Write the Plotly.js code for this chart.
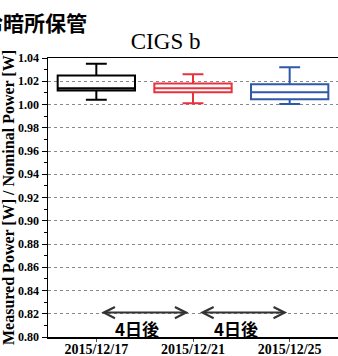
<!DOCTYPE html>
<html>
<head>
<meta charset="utf-8">
<script src="https://cdn.plot.ly/plotly-3.0.1.min.js"></script>
<style>html,body{margin:0;padding:0;background:#fff;}#chart{width:338px;height:356px;}</style>
</head>
<body>
<div id="chart"></div>
<script>
const dates = ["2015/12/17", "2015/12/21", "2015/12/25"];
const lowerWhisker = [1.004, 1.001, 1.0005];
const q1Values = [1.012, 1.0105, 1.0045];
const medianValues = [1.014, 1.014, 1.0105];
const q3Values = [1.025, 1.018, 1.0175];
const upperWhisker = [1.035, 1.026, 1.032];
const boxColors = ["#000000", "#e8323e", "#2f5aa8"];
const headerText = "冷暗所保管";
const chartTitle = "CIGS b";
const intervalLabels = ["4日後", "4日後"];

const traces = dates.map((d, i) => ({
  type: "box",
  x: [d],
  q1: [q1Values[i]],
  median: [medianValues[i]],
  q3: [q3Values[i]],
  lowerfence: [lowerWhisker[i]],
  upperfence: [upperWhisker[i]],
  width: 0.8,
  whiskerwidth: 0.27,
  line: {color: boxColors[i], width: 2},
  fillcolor: "rgba(255,255,255,0)",
  showlegend: false,
  hoverinfo: "skip"
}));

const tf = "Times New Roman, Liberation Serif, serif";
const jf = "Noto Sans CJK JP, sans-serif";
const annotations = [
  {xref: "paper", yref: "paper", x: -0.234, y: 1.13, xanchor: "left", yanchor: "middle",
   text: "<b>" + headerText + "</b>", showarrow: false, font: {family: jf, size: 21, color: "#000"}},
  {xref: "x", yref: "y", axref: "x", ayref: "y", x: 0.954, y: 0.821, ax: 0.036, ay: 0.821,
   text: "", showarrow: true, arrowside: "end+start", arrowhead: 5, arrowsize: 1.1, arrowwidth: 2, arrowcolor: "#333"},
  {xref: "x", yref: "y", axref: "x", ayref: "y", x: 1.974, y: 0.821, ax: 1.057, ay: 0.821,
   text: "", showarrow: true, arrowside: "end+start", arrowhead: 5, arrowsize: 1.1, arrowwidth: 2, arrowcolor: "#333"},
  {xref: "x", yref: "y", x: 0.418, y: 0.8075, text: "<b>" + intervalLabels[0] + "</b>", showarrow: false,
   font: {family: jf, size: 17, color: "#000"}},
  {xref: "x", yref: "y", x: 1.448, y: 0.8075, text: "<b>" + intervalLabels[1] + "</b>", showarrow: false,
   font: {family: jf, size: 17, color: "#000"}}
];

const layout = {
  width: 338, height: 356,
  margin: {l: 48, r: 0, t: 58, b: 19},
  paper_bgcolor: "#fff", plot_bgcolor: "#fff",
  title: {text: chartTitle, font: {family: tf, size: 23, color: "#000"}, x: 0.49, xanchor: "center", y: 0.885, yanchor: "middle"},
  xaxis: {
    type: "category", range: [-0.5, 2.5],
    showline: true, linecolor: "#000", linewidth: 1.5, mirror: true,
    ticks: "outside", ticklen: 3, tickcolor: "#555",
    ticklabelstandoff: -4,
    tickfont: {family: tf, size: 14, color: "#000"},
    tickprefix: "<b>", ticksuffix: "</b>",
    showgrid: false, zeroline: false
  },
  yaxis: {
    range: [0.80, 1.04], dtick: 0.02, tickformat: ".2f",
    showline: true, linecolor: "#000", linewidth: 1.5,
    ticks: "outside", ticklen: 5, tickcolor: "#000",
    minor: {dtick: 0.01, ticks: "outside", ticklen: 3, tickcolor: "#000", showgrid: false},
    tickfont: {family: tf, size: 12, color: "#000"},
    tickprefix: "<b>", ticksuffix: "</b>",
    showgrid: true, gridcolor: "#888", griddash: "dot", gridwidth: 1,
    zeroline: false,
    title: {text: "<b>Measured Power [W] / Nominal Power [W]</b>", font: {family: tf, size: 16, color: "#000"}, standoff: 4}
  },
  annotations: annotations
};

Plotly.newPlot("chart", traces, layout, {staticPlot: true, displayModeBar: false});
</script>
</body>
</html>
